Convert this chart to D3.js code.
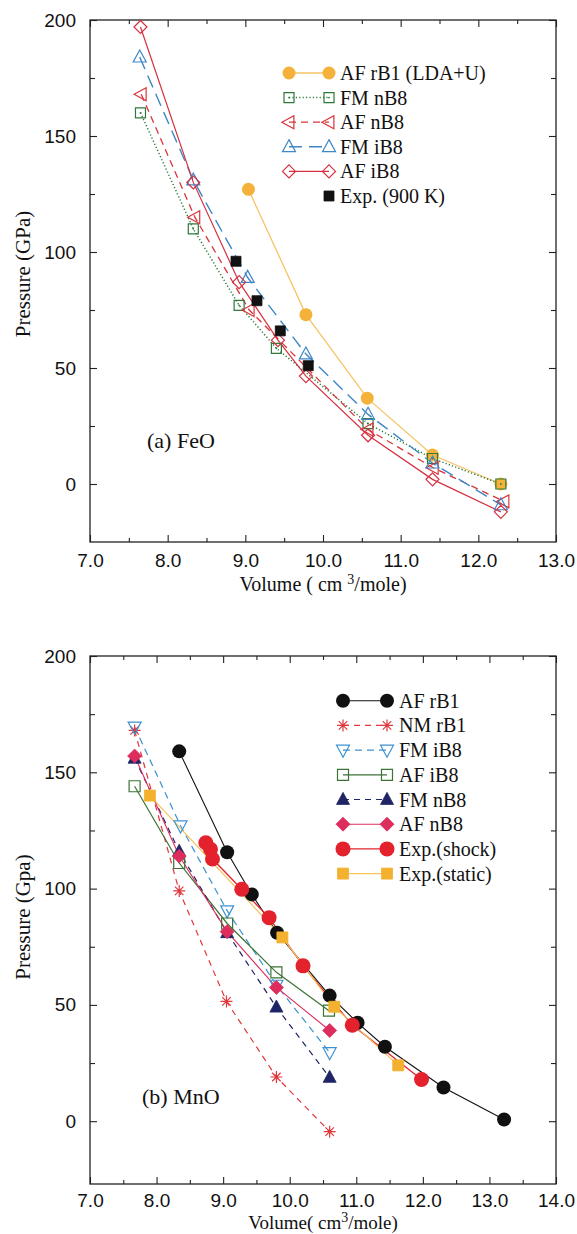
<!DOCTYPE html>
<html>
<head>
<meta charset="utf-8">
<script src="https://cdn.jsdelivr.net/npm/d3@7"></script>
<style>
  body { margin: 0; background: #fff; }
  .tick text { font-family: "Liberation Sans", Arial, sans-serif; font-size: 19px; fill: #111; }
  .serif { font-family: "Liberation Serif", "Times New Roman", serif; fill: #111; }
</style>
</head>
<body>
<div id="chart"></div>
<script>
// ---- (a) FeO : volume (cm3/mole) and pressure (GPa) per series
const feoAFrB1V = [9.04, 9.78, 10.57, 11.41, 12.29];
const feoAFrB1P = [127, 73, 37, 12.5, 0];
const feoFMnB8V = [7.65, 8.33, 8.92, 9.40, 10.58, 11.41, 12.29];
const feoFMnB8P = [160, 110, 77, 58.5, 26, 11, 0];
const feoAFnB8V = [7.66, 8.35, 9.05, 10.58, 11.42, 12.33];
const feoAFnB8P = [168, 115, 75, 23.5, 7, -7.5];
const feoFMiB8V = [7.64, 8.33, 9.03, 9.78, 10.58, 11.41, 12.29];
const feoFMiB8P = [184, 131, 89, 56, 30, 9, -9];
const feoAFiB8V = [7.65, 8.33, 8.92, 9.42, 9.78, 10.58, 11.41, 12.29];
const feoAFiB8P = [197, 130, 87, 62, 46.5, 21, 2, -12];
const feoExpV = [8.88, 9.15, 9.45, 9.81];
const feoExpP = [96, 79, 66, 51];

// ---- (b) MnO
const mnoAFrB1V = [8.34, 9.06, 9.43, 9.81, 10.6, 11.02, 11.43, 12.31, 13.22];
const mnoAFrB1P = [159, 115.6, 97.5, 81, 54, 42.3, 32, 14.5, 0.7];
const mnoNMrB1V = [7.67, 8.34, 9.05, 9.8, 10.6];
const mnoNMrB1P = [168, 99, 51.5, 19, -4.5];
const mnoFMiB8V = [7.67, 8.36, 9.06, 9.8, 10.6];
const mnoFMiB8P = [169.5, 127, 90.5, 58.5, 29.5];
const mnoAFiB8V = [7.67, 8.34, 9.06, 9.8, 10.59];
const mnoAFiB8P = [144, 111, 85, 64, 47.5];
const mnoFMnB8V = [7.67, 8.34, 9.06, 9.8, 10.6];
const mnoFMnB8P = [156, 116, 81, 49, 18.8];
const mnoAFnB8V = [7.67, 8.34, 9.06, 9.8, 10.6];
const mnoAFnB8P = [157, 114, 81.5, 57.5, 39];
const mnoShockV = [8.74, 8.81, 8.84, 9.28, 9.69, 10.2, 10.94, 11.98];
const mnoShockP = [119.7, 116.9, 112.7, 99.7, 87.5, 66.8, 41.3, 17.9];
const mnoStaticV = [7.9, 9.89, 10.67, 11.63];
const mnoStaticP = [140, 79, 49.2, 24];

// tick values
const feoXTicks = [7, 8, 9, 10, 11, 12, 13];
const mnoXTicks = [7, 8, 9, 10, 11, 12, 13, 14];
const yTicks = [0, 50, 100, 150, 200];

const zip = (v, p) => v.map((d, i) => ({v: d, p: p[i]}));

const feoSeries = [
    {name: "AF rB1 (LDA+U)", data: zip(feoAFrB1V, feoAFrB1P), color: "#f4b23a", line: "#f6c466", width: 1.3, dash: null, marker: "circle", size: 13, fill: true},
    {name: "FM nB8", data: zip(feoFMnB8V, feoFMnB8P), color: "#2f7a3a", width: 1.5, dash: "1.2,2.2", marker: "square", size: 10, fill: false, dot: true},
    {name: "AF nB8", data: zip(feoAFnB8V, feoAFnB8P), color: "#d9343a", width: 1.3, dash: "7,5", marker: "triLeft", size: 13, fill: false},
    {name: "FM iB8", data: zip(feoFMiB8V, feoFMiB8P), color: "#3f87c6", width: 1.4, dash: "13,7", marker: "triUp", size: 13, fill: false},
    {name: "AF iB8", data: zip(feoAFiB8V, feoAFiB8P), color: "#d5303f", width: 1.2, dash: null, marker: "diamond", size: 13, fill: false},
    {name: "Exp. (900 K)", data: zip(feoExpV, feoExpP), color: "#111", width: 0, dash: null, marker: "square", size: 10, fill: true, noLine: true}
];

const mnoSeries = [
    {name: "AF rB1", data: zip(mnoAFrB1V, mnoAFrB1P), color: "#111", width: 1.1, dash: null, marker: "circle", size: 14, fill: true},
    {name: "NM rB1", data: zip(mnoNMrB1V, mnoNMrB1P), color: "#e0383c", width: 1.2, dash: "6,5", marker: "asterisk", size: 12, fill: false},
    {name: "FM iB8", data: zip(mnoFMiB8V, mnoFMiB8P), color: "#3c91d2", width: 1.2, dash: "7,5", marker: "triDown", size: 13, fill: false},
    {name: "AF iB8", data: zip(mnoAFiB8V, mnoAFiB8P), color: "#3b7334", width: 1.2, dash: null, marker: "square", size: 11, fill: false},
    {name: "FM nB8", data: zip(mnoFMnB8V, mnoFMnB8P), color: "#1e2466", width: 1.2, dash: "6,5", marker: "triUp", size: 13, fill: true},
    {name: "AF nB8", data: zip(mnoAFnB8V, mnoAFnB8P), color: "#dc2d5c", width: 1.1, dash: null, marker: "diamond", size: 14, fill: true},
    {name: "Exp.(shock)", data: zip(mnoShockV, mnoShockP), color: "#e3222e", width: 1.3, dash: null, marker: "circle", size: 15, fill: true},
    {name: "Exp.(static)", data: zip(mnoStaticV, mnoStaticP), color: "#f3b12f", line: "#f6c25a", width: 1.2, dash: null, marker: "square", size: 11, fill: true}
];

function markerPath(type, s) {
    let h = s / 2;
    switch (type) {
        case "square": return `M${-h},${-h}H${h}V${h}H${-h}Z`;
        case "triUp": return `M0,${-h * 1.1}L${h},${h * 0.75}L${-h},${h * 0.75}Z`;
        case "triDown": return `M0,${h * 1.1}L${h},${-h * 0.75}L${-h},${-h * 0.75}Z`;
        case "triLeft": return `M${-h * 1.1},0L${h * 0.75},${-h}L${h * 0.75},${h}Z`;
        case "diamond": return `M0,${-h}L${h},0L0,${h}L${-h},0Z`;
        case "asterisk": {
            let a = h * 0.707;
            return `M${-h},0H${h}M0,${-h}V${h}M${-a},${-a}L${a},${a}M${-a},${a}L${a},${-a}`;
        }
    }
    return "";
}

function drawMarker(g, s, x, y) {
    if (s.marker === "circle") {
        g.append("circle").attr("cx", x).attr("cy", y).attr("r", s.size / 2)
            .attr("fill", s.color).attr("stroke", "none");
        return;
    }
    let filled = s.fill && s.marker !== "asterisk";
    g.append("path").attr("d", markerPath(s.marker, s.size))
        .attr("transform", `translate(${x},${y})`)
        .attr("fill", filled ? s.color : "#fff")
        .attr("fill-opacity", filled ? 1 : 0)
        .attr("stroke", s.color)
        .attr("stroke-width", filled ? 0.8 : 1.2);
    if (s.dot) {
        g.append("circle").attr("cx", x).attr("cy", y).attr("r", 0.9).attr("fill", s.color);
    }
}

const svg = d3.select("#chart").append("svg")
    .attr("width", 577).attr("height", 1234);

function drawPanel(cfg) {
    let x = d3.scaleLinear().domain(cfg.xDomain).range([cfg.left, cfg.right]);
    let y = d3.scaleLinear().domain([cfg.yMin, 200]).range([cfg.bottom, cfg.top]);
    let g = svg.append("g");

    // minor ticks (inward, all four sides)
    let xMinor = d3.range(cfg.xDomain[0] + 0.5, cfg.xDomain[1], 1);
    let yMinor = [25, 75, 125, 175];
    g.append("g").attr("transform", `translate(0,${cfg.bottom})`)
        .call(d3.axisBottom(x).tickValues(xMinor).tickSize(-4).tickSizeOuter(0).tickFormat(""));
    g.append("g").attr("transform", `translate(0,${cfg.top})`)
        .call(d3.axisTop(x).tickValues(xMinor).tickSize(-4).tickSizeOuter(0).tickFormat(""));
    g.append("g").attr("transform", `translate(${cfg.left},0)`)
        .call(d3.axisLeft(y).tickValues(yMinor).tickSize(-5).tickSizeOuter(0).tickFormat(""));
    g.append("g").attr("transform", `translate(${cfg.right},0)`)
        .call(d3.axisRight(y).tickValues(yMinor).tickSize(-5).tickSizeOuter(0).tickFormat(""));

    // major ticks
    g.append("g").attr("transform", `translate(0,${cfg.bottom})`)
        .call(d3.axisBottom(x).tickValues(cfg.xTicks).tickSize(-7).tickSizeOuter(0)
            .tickPadding(cfg.xPad).tickFormat(d3.format(".1f")));
    g.append("g").attr("transform", `translate(0,${cfg.top})`)
        .call(d3.axisTop(x).tickValues(cfg.xTicks).tickSize(-7).tickSizeOuter(0).tickFormat(""));
    g.append("g").attr("transform", `translate(${cfg.left},0)`)
        .call(d3.axisLeft(y).tickValues(yTicks).tickSize(-7).tickSizeOuter(0).tickPadding(14));
    g.append("g").attr("transform", `translate(${cfg.right},0)`)
        .call(d3.axisRight(y).tickValues(yTicks).tickSize(-7).tickSizeOuter(0).tickFormat(""));

    g.selectAll(".domain").remove();
    g.selectAll(".tick line").attr("stroke", "#222").attr("stroke-width", 1.1);

    g.append("rect")
        .attr("x", cfg.left).attr("y", cfg.top)
        .attr("width", cfg.right - cfg.left).attr("height", cfg.bottom - cfg.top)
        .attr("fill", "none").attr("stroke", "#222").attr("stroke-width", 1.3);

    // series lines then markers
    let line = d3.line().x(d => x(d.v)).y(d => y(d.p));
    cfg.series.forEach(s => {
        if (s.noLine) return;
        g.append("path").datum(s.data)
            .attr("d", line)
            .attr("fill", "none")
            .attr("stroke", s.line || s.color)
            .attr("stroke-width", s.width)
            .attr("stroke-dasharray", s.dash);
    });
    cfg.series.forEach(s => {
        s.data.forEach(d => drawMarker(g, s, x(d.v), y(d.p)));
    });

    // legend
    let lg = g.append("g");
    cfg.series.forEach((s, i) => {
        let ly = cfg.legY + i * cfg.legStep;
        if (!s.noLine) {
            lg.append("line")
                .attr("x1", cfg.legX1).attr("x2", cfg.legX2)
                .attr("y1", ly).attr("y2", ly)
                .attr("stroke", s.line || s.color)
                .attr("stroke-width", s.width)
                .attr("stroke-dasharray", s.dash);
            drawMarker(lg, s, cfg.legX1, ly);
        }
        drawMarker(lg, s, cfg.legX2, ly);
        lg.append("text").attr("class", "serif")
            .attr("x", cfg.legText).attr("y", ly + 7)
            .style("font-size", "20px")
            .text(s.name);
    });

    // panel label
    g.append("text").attr("class", "serif")
        .attr("x", cfg.labelX).attr("y", cfg.labelY)
        .style("font-size", "22px")
        .text(cfg.label);

    // y title
    g.append("text").attr("class", "serif")
        .attr("transform", `translate(${cfg.yTitleX},${cfg.yTitleY}) rotate(-90)`)
        .attr("text-anchor", "middle")
        .style("font-size", "21px")
        .text(cfg.yTitle);

    // x title with superscript
    let xt = g.append("text").attr("class", "serif")
        .attr("x", (cfg.left + cfg.right) / 2).attr("y", cfg.xTitleY)
        .attr("text-anchor", "middle")
        .style("font-size", cfg.xTitleSize);
    xt.append("tspan").text(cfg.xTitle[0]);
    xt.append("tspan").attr("dy", -7).style("font-size", "14px").text("3");
    xt.append("tspan").attr("dy", 7).text(cfg.xTitle[1]);
}

drawPanel({
    left: 90, right: 556, top: 20, bottom: 542, yMin: -25,
    xDomain: [7, 13], xTicks: feoXTicks, xPad: 12,
    series: feoSeries,
    legX1: 289, legX2: 329, legText: 340, legY: 73, legStep: 24.6,
    label: "(a) FeO", labelX: 147, labelY: 448,
    yTitle: "Pressure (GPa)", yTitleX: 30, yTitleY: 274,
    xTitle: ["Volume ( cm ", "/mole)"], xTitleY: 591, xTitleSize: "20px"
});

drawPanel({
    left: 90, right: 556, top: 656, bottom: 1184, yMin: -27,
    xDomain: [7, 14], xTicks: mnoXTicks, xPad: 10,
    series: mnoSeries,
    legX1: 343, legX2: 387, legText: 399, legY: 700.7, legStep: 24.7,
    label: "(b) MnO", labelX: 142, labelY: 1104,
    yTitle: "Pressure (Gpa)", yTitleX: 30, yTitleY: 917,
    xTitle: ["Volume( cm", "/mole)"], xTitleY: 1229, xTitleSize: "19px"
});
</script>
</body>
</html>
